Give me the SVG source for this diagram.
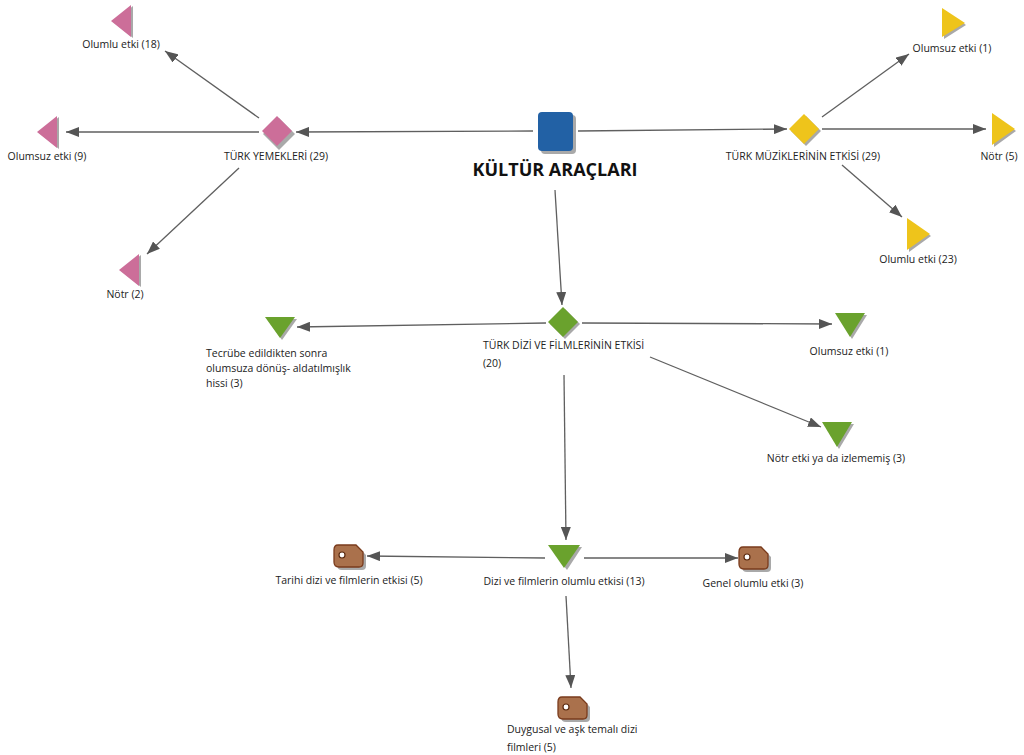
<svg xmlns="http://www.w3.org/2000/svg" width="1024" height="755" viewBox="0 0 1024 755">
<defs>
<marker id="arr" markerUnits="userSpaceOnUse" markerWidth="14" markerHeight="10" refX="13" refY="5" orient="auto">
<path d="M0,0 L13,5 L0,10 z" fill="#555"/>
</marker>
<path id="tag" d="M4,0 H22 L29,7 V18 Q29,22 25,22 H5 Q0,22 0,17 V5 Q0,0 4,0 Z"/>
</defs>
<style>
.lbl{font-family:"Open Sans","Noto Sans","DejaVu Sans",sans-serif;font-size:10.5px;fill:#222}
.c{text-anchor:middle}
.title{font-family:"Open Sans","Noto Sans","DejaVu Sans",sans-serif;font-size:18px;font-weight:bold;fill:#111;text-anchor:middle}
.sh{fill:#a9a9a9}
.pink{fill:#cc6e99}
.yel{fill:#eec41b}
.grn{fill:#6aa22d}
.tg{fill:#aa714c;stroke:#7a3b1c;stroke-width:1.3}
.hole{fill:#fff;stroke:#5a2a10;stroke-width:1.2}
.con line{stroke:#5f5f5f;stroke-width:1.3;marker-end:url(#arr)}
</style>
<rect width="1024" height="755" fill="#fff"/>
<g class="con">
<line x1="533" y1="131" x2="296" y2="132"/>
<line x1="578" y1="131" x2="787" y2="129"/>
<line x1="555" y1="190" x2="562" y2="305"/>
<line x1="259" y1="118" x2="165" y2="51"/>
<line x1="259" y1="132" x2="66" y2="132"/>
<line x1="239" y1="168" x2="147" y2="254"/>
<line x1="822" y1="117" x2="909" y2="54"/>
<line x1="822" y1="129" x2="986" y2="129"/>
<line x1="842" y1="165" x2="902" y2="217"/>
<line x1="546" y1="323" x2="297" y2="327"/>
<line x1="582" y1="323" x2="832" y2="324"/>
<line x1="650" y1="357" x2="821" y2="427"/>
<line x1="564" y1="375" x2="566" y2="540"/>
<line x1="545" y1="558" x2="367" y2="556"/>
<line x1="584" y1="558" x2="738" y2="558"/>
<line x1="566" y1="596" x2="571" y2="688"/>
</g>
<g id="kultur">
<rect x="541" y="115" width="35" height="39" rx="4" class="sh"/>
<rect x="538" y="112" width="35" height="39" rx="4" fill="#2261a5"/>
<text x="555" y="176" class="title">KÜLTÜR ARAÇLARI</text>
</g>
<g id="yemek">
<path d="M279,118 L295,134 L279,150 L263,134 Z" class="sh"/>
<path d="M277,116 L292,131 L277,146 L262,131 Z" class="pink"/>
<text x="276" y="160" class="lbl c">TÜRK YEMEKLERİ (29)</text>
</g>
<g id="y-olumlu">
<path d="M113,22 L133,6 L133,38 Z" class="sh"/>
<path d="M111,21 L131,5 L131,37 Z" class="pink"/>
<text x="121" y="48" class="lbl c">Olumlu etki (18)</text>
</g>
<g id="y-olumsuz">
<path d="M39,133 L59,117 L59,149 Z" class="sh"/>
<path d="M37,132 L57,116 L57,148 Z" class="pink"/>
<text x="47" y="160" class="lbl c">Olumsuz etki (9)</text>
</g>
<g id="y-notr">
<path d="M121,271 L141,255 L141,287 Z" class="sh"/>
<path d="M119,270 L139,254 L139,286 Z" class="pink"/>
<text x="125" y="298" class="lbl c">Nötr (2)</text>
</g>
<g id="muzik">
<path d="M806,116 L821,131 L806,146 L791,131 Z" class="sh"/>
<path d="M804,114 L819,129 L804,144 L789,129 Z" class="yel"/>
<text x="803" y="160" class="lbl c">TÜRK MÜZİKLERİNİN ETKİSİ (29)</text>
</g>
<g id="m-olumsuz">
<path d="M944,10 L966,25 L944,39 Z" class="sh"/>
<path d="M942,8 L965,23 L942,37 Z" class="yel"/>
<text x="952" y="52" class="lbl c">Olumsuz etki (1)</text>
</g>
<g id="m-notr">
<path d="M994,115 L1016,131 L994,147 Z" class="sh"/>
<path d="M992,113 L1015,129 L992,145 Z" class="yel"/>
<text x="999" y="160" class="lbl c">Nötr (5)</text>
</g>
<g id="m-olumlu">
<path d="M909,220 L931,236 L909,252 Z" class="sh"/>
<path d="M907,218 L930,234 L907,250 Z" class="yel"/>
<text x="918" y="263" class="lbl c">Olumlu etki (23)</text>
</g>
<g id="dizi">
<path d="M565,309 L580,324 L565,339 L550,324 Z" class="sh"/>
<path d="M563,307 L578,322 L563,337 L548,322 Z" class="grn"/>
<text class="lbl"><tspan x="483" y="349">TÜRK DİZİ VE FİLMLERİNİN ETKİSİ</tspan><tspan x="483" y="367">(20)</tspan></text>
</g>
<g id="d-tecrube">
<path d="M267,319 L297,319 L282,340 Z" class="sh"/>
<path d="M265,317 L295,317 L280,338 Z" class="grn"/>
<text class="lbl"><tspan x="206" y="357">Tecrübe edildikten sonra</tspan><tspan x="206" y="372">olumsuza dönüş- aldatılmışlık</tspan><tspan x="206" y="387">hissi (3)</tspan></text>
</g>
<g id="d-olumsuz">
<path d="M837,315 L867,315 L852,339 Z" class="sh"/>
<path d="M835,313 L865,313 L850,337 Z" class="grn"/>
<text x="849" y="355" class="lbl c">Olumsuz etki (1)</text>
</g>
<g id="d-notr">
<path d="M824,424 L854,424 L839,449 Z" class="sh"/>
<path d="M822,422 L852,422 L837,447 Z" class="grn"/>
<text x="836" y="462" class="lbl c">Nötr etki ya da izlememiş (3)</text>
</g>
<g id="d-olumlu">
<path d="M550,547 L582,547 L567,570 Z" class="sh"/>
<path d="M548,545 L580,545 L564,568 Z" class="grn"/>
<text x="564" y="585" class="lbl c">Dizi ve filmlerin olumlu etkisi (13)</text>
</g>
<g id="o-tarihi">
<use href="#tag" x="337" y="548" class="sh"/>
<use href="#tag" x="334" y="545" class="tg"/>
<circle cx="342" cy="555" r="3" class="hole"/>
<text x="349" y="584" class="lbl c">Tarihi dizi ve filmlerin etkisi (5)</text>
</g>
<g id="o-genel">
<use href="#tag" x="742" y="550" class="sh"/>
<use href="#tag" x="739" y="547" class="tg"/>
<circle cx="747" cy="557" r="3" class="hole"/>
<text x="753" y="587" class="lbl c">Genel olumlu etki (3)</text>
</g>
<g id="o-duygusal">
<use href="#tag" x="561" y="700" class="sh"/>
<use href="#tag" x="558" y="697" class="tg"/>
<circle cx="566" cy="707" r="3" class="hole"/>
<text class="lbl"><tspan x="507" y="733">Duygusal ve aşk temalı dizi</tspan><tspan x="507" y="751">filmleri (5)</tspan></text>
</g>
</svg>
